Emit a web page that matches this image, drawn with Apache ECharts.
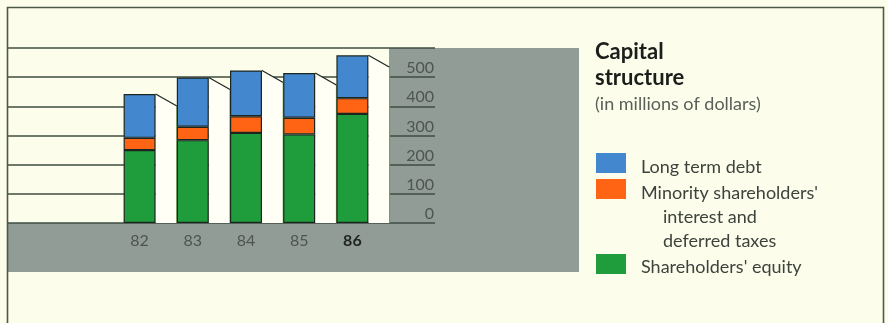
<!DOCTYPE html>
<html>
<head>
<meta charset="utf-8">
<script src="https://cdn.jsdelivr.net/npm/echarts@6/dist/echarts.min.js"></script>
<style>
  html, body { margin: 0; padding: 0; background: #fdfdec; }
  #chart { width: 888px; height: 323px; }
</style>
</head>
<body>
<div id="chart"></div>
<script>
// capital structure, in millions of dollars
var years = ['82', '83', '84', '85', '86'];
var equity = [250, 284, 309, 304, 374];
var minority = [42, 46, 57, 57, 54];
var debt = [150, 169, 157, 153, 147];
var yTicks = [0, 100, 200, 300, 400, 500];

var names = ['Long term debt', "Minority shareholders'", "Shareholders' equity"];
var colors = ['#4387cf', '#ff6414', '#1f9c3c'];

var totals = years.map(function (y, i) {
    return [i, equity[i] + minority[i] + debt[i]];
});

var chart = echarts.init(document.getElementById('chart'));

var font = 'Lato, "Open Sans", sans-serif';
var BAR_W = 32;

function renderSide(params, api) {
    var idx = api.value(0);
    var top = api.coord([idx, api.value(1)]);
    var base = api.coord([idx, 0]);
    var band = api.size([1, 0])[0];
    var x0 = top[0] + BAR_W / 2;
    var x1 = top[0] + band - BAR_W / 2;
    var drop = 12;
    return {
        type: 'group',
        children: [{
            type: 'polygon',
            shape: { points: [[x0, top[1]], [x1, top[1] + drop], [x1, base[1]], [x0, base[1]]] },
            style: { fill: '#fffff6' }
        }, {
            type: 'line',
            shape: { x1: x0, y1: top[1], x2: x1, y2: top[1] + drop },
            style: { stroke: '#1c2620', lineWidth: 1.2 }
        }, {
            type: 'line',
            shape: { x1: x1, y1: top[1] + drop, x2: x1, y2: base[1] },
            style: { stroke: '#6f9a48', lineWidth: 1 }
        }]
    };
}

var legendItems = [];
var legendTops = [153, 179, 254];
legendTops.forEach(function (t, i) {
    legendItems.push({
        type: 'rect', left: 596, top: t, z: 5,
        shape: { width: 30, height: 20 },
        style: { fill: colors[i] }
    });
});
var legendLines = [
    [641, 167, names[0]],
    [641, 193, names[1]],
    [663, 217, 'interest and'],
    [663, 241, 'deferred taxes'],
    [641, 267, names[2]]
];
legendLines.forEach(function (l) {
    legendItems.push({
        type: 'text', x: l[0], y: l[1], z: 5,
        style: { text: l[2], fill: '#3c423c', font: '18px ' + font, verticalAlign: 'middle' }
    });
});

var option = {
    backgroundColor: '#fdfdec',
    animation: false,
    grid: [
        { left: 7, right: 453, top: 48, bottom: 100 },
        { left: 113, right: 509, top: 48, bottom: 100 }
    ],
    xAxis: [
        { gridIndex: 0, type: 'category', data: ['a'], show: false },
        {
            gridIndex: 1, type: 'category', data: years,
            axisLine: { show: false }, axisTick: { show: false },
            axisLabel: {
                interval: 0, hideOverlap: false,
                margin: 10, fontSize: 16, fontFamily: font, color: '#4c554f',
                formatter: function (v) { return v === '86' ? '{b|' + v + '}' : v; },
                rich: { b: { fontWeight: 'bold', color: '#1f2420', fontSize: 16, fontFamily: font } }
            }
        }
    ],
    yAxis: [
        {
            gridIndex: 0, type: 'value', position: 'right', min: 0, max: 600, interval: 100,
            axisLine: { show: false }, axisTick: { show: false },
            splitLine: { lineStyle: { color: '#3e4c42', width: 1.5 } },
            axisLabel: {
                inside: true, margin: 1, fontSize: 16, fontFamily: font, color: '#4c554f',
                verticalAlign: 'bottom', padding: [0, 0, 1, 0],
                formatter: function (v) { return yTicks.indexOf(v) >= 0 ? String(v) : ''; }
            }
        },
        { gridIndex: 1, type: 'value', min: 0, max: 600, show: false }
    ],
    graphic: [
        { type: 'rect', z: -10, shape: { x: 389, y: 48, width: 190, height: 224 }, style: { fill: '#929c96' } },
        { type: 'rect', z: -10, shape: { x: 7, y: 223, width: 382, height: 49 }, style: { fill: '#929c96' } },
        { type: 'rect', z: 10, shape: { x: 7.5, y: 7.5, width: 876, height: 330 }, style: { fill: null, stroke: '#4b5a48', lineWidth: 1.6 } },
        { type: 'text', x: 595, y: 52, z: 5, style: { text: 'Capital', fill: '#1b1f1b', font: 'bold 22px ' + font, verticalAlign: 'middle' } },
        { type: 'text', x: 595, y: 78, z: 5, style: { text: 'structure', fill: '#1b1f1b', font: 'bold 22px ' + font, verticalAlign: 'middle' } },
        { type: 'text', x: 595, y: 104, z: 5, style: { text: '(in millions of dollars)', fill: '#596059', font: '18px ' + font, verticalAlign: 'middle' } }
    ].concat(legendItems),
    series: [
        {
            name: names[2], type: 'bar', stack: 'cap', xAxisIndex: 1, yAxisIndex: 1,
            barWidth: BAR_W, data: equity,
            itemStyle: { color: colors[2], borderColor: '#1c2620', borderWidth: 1.2 }
        },
        {
            name: names[1], type: 'bar', stack: 'cap', xAxisIndex: 1, yAxisIndex: 1,
            barWidth: BAR_W, data: minority,
            itemStyle: { color: colors[1], borderColor: '#1c2620', borderWidth: 1.2 }
        },
        {
            name: names[0], type: 'bar', stack: 'cap', xAxisIndex: 1, yAxisIndex: 1,
            barWidth: BAR_W, data: debt,
            itemStyle: { color: colors[0], borderColor: '#1c2620', borderWidth: 1.2 }
        },
        {
            type: 'custom', xAxisIndex: 1, yAxisIndex: 1,
            renderItem: renderSide, data: totals, silent: true
        }
    ]
};

chart.setOption(option);
</script>
</body>
</html>
